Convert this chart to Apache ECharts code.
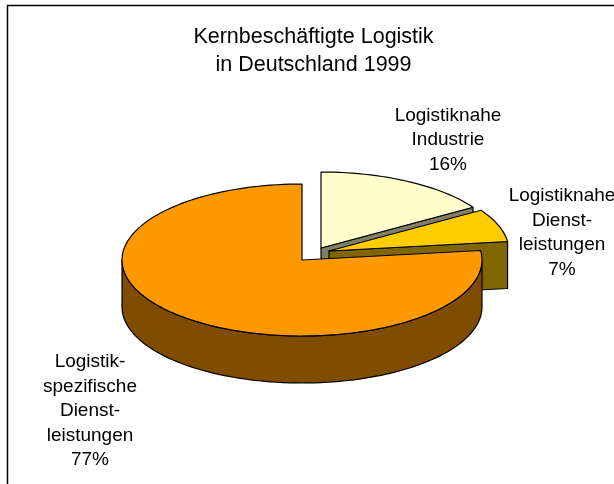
<!DOCTYPE html>
<html>
<head>
<meta charset="utf-8">
<title>Kernbeschäftigte Logistik</title>
<style>
html, body { margin: 0; padding: 0; background: #fff; }
#chart { width: 614px; height: 484px; }
</style>
<script src="https://cdn.jsdelivr.net/npm/echarts@6/dist/echarts.min.js"></script>
</head>
<body>
<div id="chart"></div>
<script>
var titleText = 'Kernbeschäftigte Logistik\nin Deutschland 1999';
var categories = ['Logistiknahe\nIndustrie', 'Logistiknahe\nDienst-\nleistungen', 'Logistik-\nspezifische\nDienst-\nleistungen'];
var shares = [16, 7, 77];

// look of the slices, same order as categories
var topColors = ['#FFFFCC', '#FFCC00', '#FF9900'];
var wallColors = ['#7F7F66', '#7F6600', '#7F4C00'];
var centers = [[321, 248], [329, 251], [302, 260]];
var labelPos = [[448, 140], [562, 233], [90, 411]];
var radiusX = 180;
var radiusY = 76;
var depth = 47;
var font = '19px "Liberation Sans", Arial, sans-serif';

var total = shares.reduce(function (a, b) { return a + b; }, 0);

function point(c, deg, drop) {
    var r = deg * Math.PI / 180;
    return [c[0] + Math.sin(r) * radiusX, c[1] - Math.cos(r) * radiusY + (drop || 0)];
}

function arc(c, from, to, drop) {
    var pts = [];
    var steps = Math.max(2, Math.ceil(Math.abs(to - from) / 2));
    for (var i = 0; i <= steps; i++) {
        pts.push(point(c, from + (to - from) * i / steps, drop));
    }
    return pts;
}

function poly(points, fill) {
    return {
        type: 'polygon',
        shape: { points: points },
        style: { fill: fill, stroke: '#000', lineWidth: 1.2, lineJoin: 'round' }
    };
}

function renderSlice(params, api) {
    var i = params.dataIndex;
    var before = 0;
    for (var k = 0; k < i; k++) before += shares[k];
    var start = before / total * 360;
    var end = (before + api.value(0)) / total * 360;
    var c = centers[i];
    var children = [];

    // cut face along the closing edge, only seen when it looks to the front
    if (end < 90) {
        var rim = point(c, end);
        children.push(poly([c, rim, [rim[0], rim[1] + depth], [c[0], c[1] + depth]], wallColors[i]));
    }
    // outer wall, front half of the ellipse only
    var wallFrom = Math.max(start, 90);
    var wallTo = Math.min(end, 270);
    if (wallFrom < wallTo) {
        var upper = arc(c, wallFrom, wallTo, 0);
        var lower = arc(c, wallTo, wallFrom, depth);
        children.push(poly(upper.concat(lower), wallColors[i]));
    }
    children.push(poly([c].concat(arc(c, start, end, 0)), topColors[i]));
    return { type: 'group', children: children };
}

function renderLabel(params, api) {
    var i = params.dataIndex;
    return {
        type: 'text',
        style: {
            x: labelPos[i][0],
            y: labelPos[i][1],
            text: categories[i] + '\n' + api.value(0) + '%',
            align: 'center',
            verticalAlign: 'middle',
            font: font,
            lineHeight: 24.5,
            fill: '#000'
        }
    };
}

var myChart = echarts.init(document.getElementById('chart'), null, { renderer: 'canvas' });
myChart.setOption({
    animation: false,
    backgroundColor: '#fff',
    title: {
        text: titleText,
        left: 308.5,
        top: 18,
        textAlign: 'center',
        textStyle: {
            fontFamily: '"Liberation Sans", Arial, sans-serif',
            fontSize: 21.5,
            fontWeight: 'normal',
            lineHeight: 28,
            color: '#000'
        }
    },
    graphic: [
        {
            type: 'polyline',
            shape: { points: [[7.5, 484], [7.5, 5.5], [614, 5.5]] },
            style: { stroke: '#000', lineWidth: 1.5, fill: null }
        }
    ],
    series: [
        {
            type: 'custom',
            coordinateSystem: 'none',
            silent: true,
            data: shares,
            renderItem: renderSlice
        },
        {
            type: 'custom',
            coordinateSystem: 'none',
            silent: true,
            z: 5,
            data: shares,
            renderItem: renderLabel
        }
    ]
});
</script>
</body>
</html>
